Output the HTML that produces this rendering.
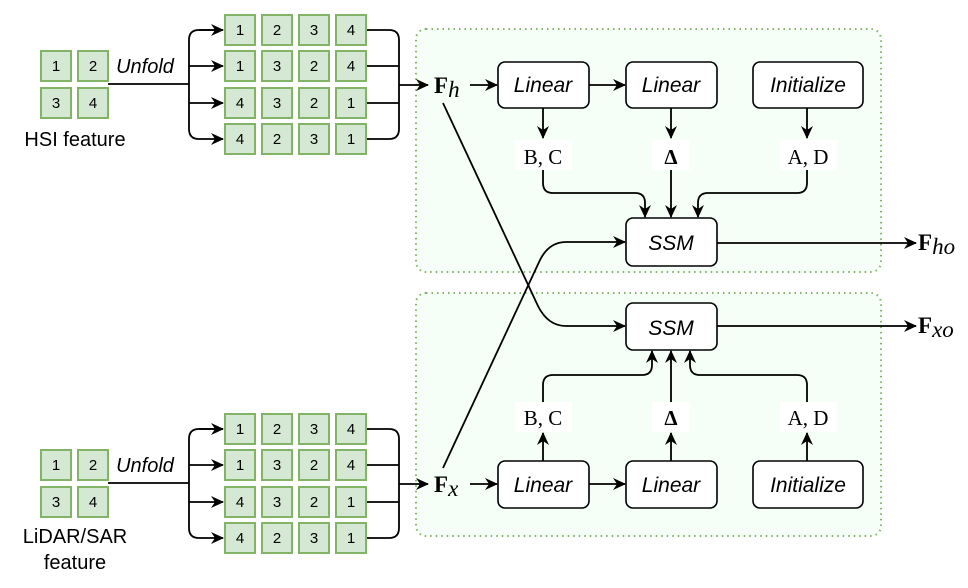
<!DOCTYPE html>
<html><head><meta charset="utf-8"><style>
body{margin:0;background:#fff}
svg{display:block}
.sq{fill:#d5e8d4;stroke:#82b366;stroke-width:2}
.n{font-family:"Liberation Sans",sans-serif;font-size:15px;text-anchor:middle;fill:#000}
.b{fill:#fff;stroke:#000;stroke-width:1.6}
.it{font-family:"Liberation Sans",sans-serif;font-style:italic;font-size:21px;text-anchor:middle}
.lb{font-family:"Liberation Serif",serif;font-size:21px;text-anchor:middle}
.l{fill:none;stroke:#000;stroke-width:1.8}
</style></head><body>
<svg width="968" height="588" viewBox="0 0 968 588" xmlns="http://www.w3.org/2000/svg">
<defs><marker id="a" markerWidth="13" markerHeight="12" refX="12" refY="6" orient="auto" markerUnits="userSpaceOnUse"><path d="M0,0 L13,6 L0,12 L4,6 z" fill="#000"/></marker></defs>
<rect x="416" y="29" width="465" height="243" rx="10" fill="#f5fff7" stroke="#82b366" stroke-width="2" stroke-dasharray="1.5 4"/>
<rect x="416" y="293" width="465" height="243" rx="10" fill="#f5fff7" stroke="#82b366" stroke-width="2" stroke-dasharray="1.5 4"/>

<g>
<rect class="sq" x="41" y="51" width="30" height="30"/><text class="n" x="56" y="71">1</text>
<rect class="sq" x="78" y="51" width="30" height="30"/><text class="n" x="93" y="71">2</text>
<rect class="sq" x="41" y="88" width="30" height="30"/><text class="n" x="56" y="108">3</text>
<rect class="sq" x="78" y="88" width="30" height="30"/><text class="n" x="93" y="108">4</text>
</g>
<text x="145" y="73" class="it" style="font-size:20px">Unfold</text>
<text x="75" y="146" font-family="Liberation Sans" font-size="20" text-anchor="middle">HSI feature</text>
<path class="l" d="M108,84 H189"/>
<path class="l" d="M223,30 H199 Q189,30 189,40 V129 Q189,139 199,139 H223" marker-end="url(#a)"/>
<path class="l" d="M199,30 H223" marker-end="url(#a)"/>
<path class="l" d="M189,66 H223" marker-end="url(#a)"/>
<path class="l" d="M189,103 H223" marker-end="url(#a)"/>
<path class="l" d="M366,30 H389 Q399,30 399,40 V129 Q399,139 389,139 H366 M366,66 H399 M366,103 H399 M399,85 H428" marker-end="url(#a)"/>
<g id="grid">
<rect class="sq" x="225" y="15" width="30" height="30"/><text class="n" x="240" y="35">1</text>
<rect class="sq" x="262" y="15" width="30" height="30"/><text class="n" x="277" y="35">2</text>
<rect class="sq" x="299" y="15" width="30" height="30"/><text class="n" x="314" y="35">3</text>
<rect class="sq" x="336" y="15" width="30" height="30"/><text class="n" x="351" y="35">4</text>
<rect class="sq" x="225" y="51" width="30" height="30"/><text class="n" x="240" y="71">1</text>
<rect class="sq" x="262" y="51" width="30" height="30"/><text class="n" x="277" y="71">3</text>
<rect class="sq" x="299" y="51" width="30" height="30"/><text class="n" x="314" y="71">2</text>
<rect class="sq" x="336" y="51" width="30" height="30"/><text class="n" x="351" y="71">4</text>
<rect class="sq" x="225" y="88" width="30" height="30"/><text class="n" x="240" y="108">4</text>
<rect class="sq" x="262" y="88" width="30" height="30"/><text class="n" x="277" y="108">3</text>
<rect class="sq" x="299" y="88" width="30" height="30"/><text class="n" x="314" y="108">2</text>
<rect class="sq" x="336" y="88" width="30" height="30"/><text class="n" x="351" y="108">1</text>
<rect class="sq" x="225" y="124" width="30" height="30"/><text class="n" x="240" y="144">4</text>
<rect class="sq" x="262" y="124" width="30" height="30"/><text class="n" x="277" y="144">2</text>
<rect class="sq" x="299" y="124" width="30" height="30"/><text class="n" x="314" y="144">3</text>
<rect class="sq" x="336" y="124" width="30" height="30"/><text class="n" x="351" y="144">1</text>
</g>

<g transform="translate(0,399)">
<rect class="sq" x="41" y="51" width="30" height="30"/><text class="n" x="56" y="71">1</text>
<rect class="sq" x="78" y="51" width="30" height="30"/><text class="n" x="93" y="71">2</text>
<rect class="sq" x="41" y="88" width="30" height="30"/><text class="n" x="56" y="108">3</text>
<rect class="sq" x="78" y="88" width="30" height="30"/><text class="n" x="93" y="108">4</text>
<text x="145" y="73" class="it" style="font-size:20px">Unfold</text>
<path class="l" d="M108,84 H189"/>
<path class="l" d="M223,30 H199 Q189,30 189,40 V129 Q189,139 199,139 H223" marker-end="url(#a)"/>
<path class="l" d="M199,30 H223" marker-end="url(#a)"/>
<path class="l" d="M189,66 H223" marker-end="url(#a)"/>
<path class="l" d="M189,103 H223" marker-end="url(#a)"/>
<path class="l" d="M366,30 H389 Q399,30 399,40 V129 Q399,139 389,139 H366 M366,66 H399 M366,103 H399 M399,85 H428" marker-end="url(#a)"/>
<use href="#grid"/>
</g>
<text x="75" y="543" font-family="Liberation Sans" font-size="20" text-anchor="middle">LiDAR/SAR</text>
<text x="75" y="569" font-family="Liberation Sans" font-size="20" text-anchor="middle">feature</text>

<text x="434" y="93" font-family="Liberation Serif" font-size="23" font-weight="bold">F<tspan font-weight="normal" font-style="italic" dy="4">h</tspan></text>
<text x="434" y="492" font-family="Liberation Serif" font-size="23" font-weight="bold">F<tspan font-weight="normal" font-style="italic" dy="4">x</tspan></text>
<text x="918" y="250" font-family="Liberation Serif" font-size="23" font-weight="bold">F<tspan font-weight="normal" font-style="italic" dy="4">ho</tspan></text>
<text x="918" y="333" font-family="Liberation Serif" font-size="23" font-weight="bold">F<tspan font-weight="normal" font-style="italic" dy="4">xo</tspan></text>

<path class="l" d="M470,85 H497" marker-end="url(#a)"/>
<path class="l" d="M589,85 H625" marker-end="url(#a)"/>
<rect class="b" x="498" y="62" width="91" height="46" rx="7"/><text class="it" x="543" y="92">Linear</text>
<rect class="b" x="626" y="62" width="91" height="46" rx="7"/><text class="it" x="671" y="92">Linear</text>
<rect class="b" x="753" y="62" width="110" height="46" rx="7"/><text class="it" x="808" y="92">Initialize</text>
<path class="l" d="M543,108 V138" marker-end="url(#a)"/>
<path class="l" d="M671,108 V138" marker-end="url(#a)"/>
<path class="l" d="M807,108 V138" marker-end="url(#a)"/>
<rect x="515" y="140" width="57" height="30" fill="#fff"/><text class="lb" x="543" y="164">B, C</text>
<rect x="652" y="140" width="38" height="30" fill="#fff"/><text class="lb" x="671" y="164" font-weight="bold">Δ</text>
<rect x="780" y="140" width="57" height="30" fill="#fff"/><text class="lb" x="808" y="164">A, D</text>
<path class="l" d="M543,170 V183 Q543,193 553,193 H635 Q645,193 645,203 V217" marker-end="url(#a)"/>
<path class="l" d="M671,170 V217" marker-end="url(#a)"/>
<path class="l" d="M807,170 V183 Q807,193 797,193 H708 Q698,193 698,203 V217" marker-end="url(#a)"/>
<rect class="b" x="626" y="218" width="91" height="48" rx="7"/><text class="it" x="671" y="250">SSM</text>
<path class="l" d="M717,243 H916" marker-end="url(#a)"/>

<path class="l" d="M470,484 H497" marker-end="url(#a)"/>
<path class="l" d="M589,484 H625" marker-end="url(#a)"/>
<rect class="b" x="498" y="461" width="91" height="47" rx="7"/><text class="it" x="543" y="492">Linear</text>
<rect class="b" x="626" y="461" width="91" height="47" rx="7"/><text class="it" x="671" y="492">Linear</text>
<rect class="b" x="753" y="461" width="110" height="47" rx="7"/><text class="it" x="808" y="492">Initialize</text>
<path class="l" d="M543,461 V433" marker-end="url(#a)"/>
<path class="l" d="M671,461 V433" marker-end="url(#a)"/>
<path class="l" d="M807,461 V433" marker-end="url(#a)"/>
<rect x="515" y="402" width="57" height="30" fill="#fff"/><text class="lb" x="543" y="425">B, C</text>
<rect x="652" y="402" width="38" height="30" fill="#fff"/><text class="lb" x="671" y="425" font-weight="bold">Δ</text>
<rect x="780" y="402" width="57" height="30" fill="#fff"/><text class="lb" x="808" y="425">A, D</text>
<path class="l" d="M543,402 V385 Q543,375 553,375 H642 Q652,375 652,365 V351" marker-end="url(#a)"/>
<path class="l" d="M671,402 V351" marker-end="url(#a)"/>
<path class="l" d="M807,402 V385 Q807,375 797,375 H700 Q690,375 690,365 V351" marker-end="url(#a)"/>
<rect class="b" x="626" y="303" width="91" height="47" rx="7"/><text class="it" x="671" y="335">SSM</text>
<path class="l" d="M717,326 H916" marker-end="url(#a)"/>

<path class="l" d="M443,103 L538,306 Q548,326 566,326 H625" marker-end="url(#a)"/>
<path class="l" d="M443,468 L540,260 Q549,242 566,242 H625" marker-end="url(#a)"/>
</svg>
</body></html>
